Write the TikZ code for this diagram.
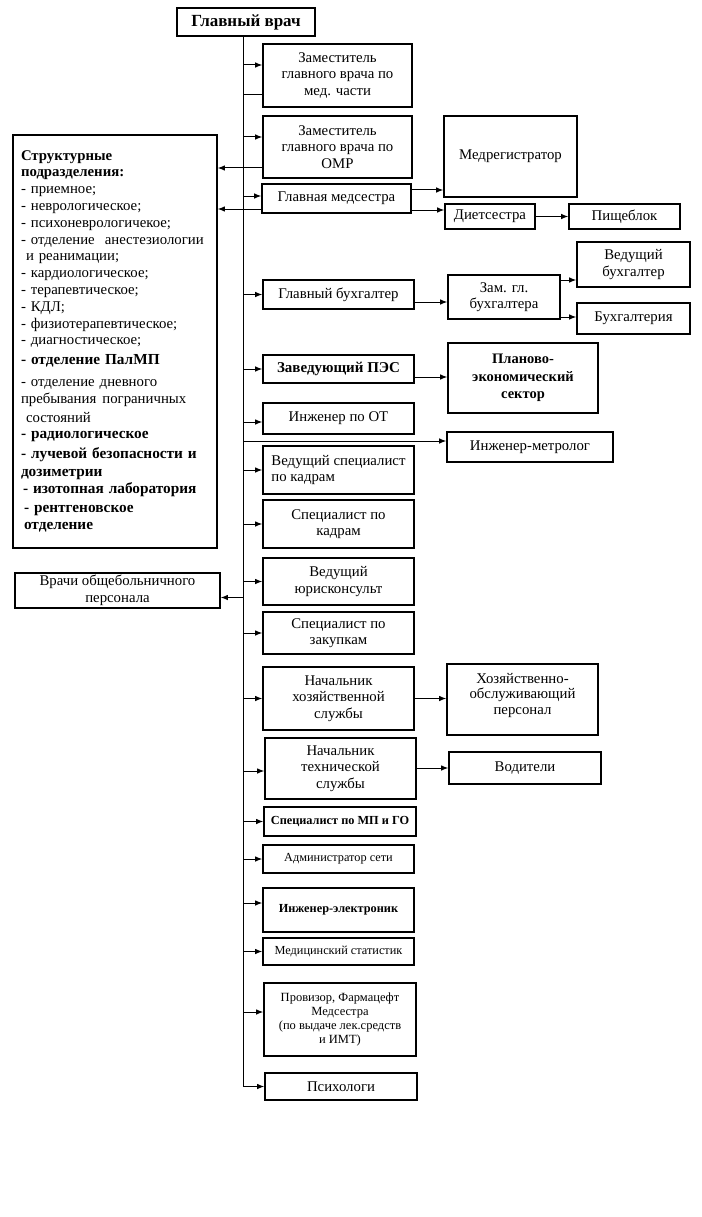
\documentclass[tikz,border=0pt]{standalone}
\usepackage{fontspec}
\setmainfont{Liberation Serif}
\usepackage{tikz}
\usetikzlibrary{arrows.meta,calc,positioning}

\begin{document}
\begin{tikzpicture}[
        x=1pt, y=-1pt,
        box/.style={draw, line width=1.6pt, align=center, inner sep=2pt, font=\fontsize{14.8}{16.5}\selectfont},
        smallbox/.style={box, font=\fontsize{12.3}{14.5}\selectfont},
        arrow/.style={-{Latex[length=7pt,width=5.5pt]}, line width=1pt},
        line/.style={line width=1pt}
    ]
        \useasboundingbox (0,0) rectangle (701,1217);

        % chief and the spine
        \node[box, minimum width=138pt, minimum height=28pt, font=\fontsize{17}{19}\selectfont\bfseries] (chief) at (246,22) {Главный врач};
        \coordinate (sp) at (243,0);

        % right column
        \node[box, minimum width=149pt, minimum height=63pt] (zmed) at (337.5,75.5) {Заместитель\\главного врача по\\мед. части};
        \node[box, minimum width=149pt, minimum height=62pt] (zomr) at (337.5,147) {Заместитель\\главного врача по\\ОМР};
        \node[box, minimum width=149pt, minimum height=29pt] (gms) at (336.5,198.5) {Главная медсестра};
        \node[box, minimum width=151pt, minimum height=29pt] (glbuh) at (338.5,294.5) {Главный бухгалтер};
        \node[box, minimum width=151pt, minimum height=28pt, font=\fontsize{15}{17}\selectfont\bfseries] (pes) at (338.5,369) {Заведующий ПЭС};
        \node[box, minimum width=151pt, minimum height=31pt] (ot) at (338.5,418.5) {Инженер по ОТ};
        \node[box, minimum width=151pt, minimum height=48pt, align=left] (vedkadr) at (338.5,470) {Ведущий специалист\\по кадрам};
        \node[box, minimum width=151pt, minimum height=48pt] (kadr) at (338.5,524) {Специалист по\\кадрам};
        \node[box, minimum width=151pt, minimum height=47pt] (yur) at (338.5,581.5) {Ведущий\\юрисконсульт};
        \node[box, minimum width=151pt, minimum height=42pt] (zak) at (338.5,633) {Специалист по\\закупкам};
        \node[box, minimum width=151pt, minimum height=63pt] (hoz) at (338.5,698.5) {Начальник\\хозяйственной\\службы};
        \node[box, minimum width=151pt, minimum height=61pt] (teh) at (340.5,768.5) {Начальник\\технической\\службы};
        \node[smallbox, minimum width=152pt, minimum height=29pt, font=\fontsize{12.3}{14}\selectfont\bfseries] (mpgo) at (340,821.5) {Специалист по МП и ГО};
        \node[smallbox, minimum width=151pt, minimum height=28pt] (adm) at (338.5,859) {Администратор сети};
        \node[smallbox, minimum width=151pt, minimum height=44pt, font=\fontsize{12.3}{14}\selectfont\bfseries] (elec) at (338.5,910) {Инженер-электроник};
        \node[smallbox, minimum width=151pt, minimum height=27pt] (stat) at (338.5,951.5) {Медицинский статистик};
        \node[smallbox, minimum width=152pt, minimum height=73pt, font=\fontsize{12.5}{14.3}\selectfont] (prov) at (340,1019.5) {Провизор, Фармацефт\\Медсестра\\(по выдаче лек.средств\\и ИМТ)};
        \node[box, minimum width=152pt, minimum height=27pt] (psy) at (341,1086.5) {Психологи};

        % second level
        \node[box, minimum width=133pt, minimum height=81pt] (medreg) at (510.5,156.5) {Медрегистратор};
        \node[box, minimum width=90pt, minimum height=25pt] (diet) at (490,216.5) {Диетсестра};
        \node[box, minimum width=111pt, minimum height=25pt] (pish) at (624.5,216.5) {Пищеблок};
        \node[box, minimum width=112pt, minimum height=44pt] (zambuh) at (504,297) {Зам. гл.\\бухгалтера};
        \node[box, minimum width=113pt, minimum height=45pt] (vedbuh) at (633.5,264.5) {Ведущий\\бухгалтер};
        \node[box, minimum width=113pt, minimum height=31pt] (buh) at (633.5,318.5) {Бухгалтерия};
        \node[box, minimum width=150pt, minimum height=70pt, font=\fontsize{14.5}{17.3}\selectfont\bfseries] (pesec) at (523,378) {Планово-\\экономический\\сектор};
        \node[box, minimum width=166pt, minimum height=30pt] (metr) at (530,447) {Инженер-метролог};
        \node[box, minimum width=151pt, minimum height=71pt, font=\fontsize{14.8}{15.2}\selectfont] (hozper) at (522.5,699.5) {Хозяйственно-\\обслуживающий\\персонал\\[-4pt]~};
        \node[box, minimum width=152pt, minimum height=32pt] (vod) at (525,768) {Водители};

        % left column
        \node[box, minimum width=204pt, minimum height=413pt, text width=188pt, align=left, font=\fontsize{14.8}{16.8}\selectfont] (struct) at (115,341.5) {%
            \textbf{Структурные}\\
            \textbf{подразделения:}\\
            - приемное;\\
            - неврологическое;\\
            - психоневрологичекое;\\
            - отделение\hspace{10pt}анестезиологии\\
            \hspace{5pt}и реанимации;\\
            - кардиологическое;\\
            - терапевтическое;\\
            - КДЛ;\\
            - физиотерапевтическое;\\
            - диагностическое;\\[3pt]
            {\fontsize{15.3}{16.8}\selectfont\bfseries - отделение ПалМП}\\[5pt]
            - отделение дневного\\
            пребывания\hspace{6pt}пограничных\\[2pt]
            \hspace{5pt}состояний\\
            {\fontsize{15.3}{16.8}\selectfont\bfseries - радиологическое}\\[3pt]
            {\fontsize{15.3}{16.8}\selectfont\bfseries - лучевой безопасности и}\\[1pt]
            {\fontsize{15.3}{16.8}\selectfont\bfseries дозиметрии}\\
            \hspace{2pt}{\fontsize{15.3}{16.8}\selectfont\bfseries - изотопная лаборатория}\\[2pt]
            \hspace{3pt}{\fontsize{15.3}{16.8}\selectfont\bfseries - рентгеновское}\\[1pt]
            \hspace{3pt}{\fontsize{15.3}{16.8}\selectfont\bfseries отделение}};
        \node[box, minimum width=205pt, minimum height=35pt] (vrachi) at (117.5,590.5) {Врачи общебольничного\\персонала};

        % connectors
        \draw[line] (chief.south -| sp) -- (psy.west -| sp);
        \draw[arrow] ([yshift=10.5pt]zmed.west -| sp) -- ([yshift=10.5pt]zmed.west);
        \draw[line] ([yshift=-19.5pt]zmed.west -| sp) -- ([yshift=-19.5pt]zmed.west);
        \draw[arrow] ([yshift=10pt]zomr.west -| sp) -- ([yshift=10pt]zomr.west);
        \draw[arrow] ([yshift=-21pt]zomr.west) -- ([yshift=-21pt]zomr.west -| struct.east);
        \draw[arrow] ([yshift=2.5pt]gms.west -| sp) -- ([yshift=2.5pt]gms.west);
        \draw[arrow] ([yshift=-10.5pt]gms.west) -- ([yshift=-10.5pt]gms.west -| struct.east);
        \draw[arrow] ([yshift=8.5pt]gms.east) -- ([yshift=8.5pt]gms.east -| medreg.west);
        \draw[arrow] ([yshift=-11.5pt]gms.east) -- ([yshift=-11.5pt]gms.east -| diet.west);
        \draw[arrow] (diet) -- (pish);
        \draw[arrow] (glbuh.west -| sp) -- (glbuh.west);
        \draw[arrow] ([yshift=-7.5pt]glbuh.east) -- ([yshift=-7.5pt]glbuh.east -| zambuh.west);
        \draw[arrow] ([yshift=17pt]zambuh.east) -- ([yshift=17pt]zambuh.east -| vedbuh.west);
        \draw[arrow] ([yshift=-20pt]zambuh.east) -- ([yshift=-20pt]zambuh.east -| buh.west);
        \draw[arrow] (pes.west -| sp) -- (pes.west);
        \draw[arrow] ([yshift=-8pt]pes.east) -- ([yshift=-8pt]pes.east -| pesec.west);
        \draw[arrow] ([yshift=-3.5pt]ot.west -| sp) -- ([yshift=-3.5pt]ot.west);
        \draw[arrow] ([yshift=6pt]metr.west -| sp) -- ([yshift=6pt]metr.west);
        \draw[arrow] (vedkadr.west -| sp) -- (vedkadr.west);
        \draw[arrow] (kadr.west -| sp) -- (kadr.west);
        \draw[arrow] (yur.west -| sp) -- (yur.west);
        \draw[arrow] ([yshift=-7pt]vrachi.east -| sp) -- ([yshift=-7pt]vrachi.east);
        \draw[arrow] (zak.west -| sp) -- (zak.west);
        \draw[arrow] (hoz.west -| sp) -- (hoz.west);
        \draw[arrow] (hoz.east) -- (hoz.east -| hozper.west);
        \draw[arrow] ([yshift=-2.5pt]teh.west -| sp) -- ([yshift=-2.5pt]teh.west);
        \draw[arrow] (vod.west -| teh.east) -- (vod.west);
        \draw[arrow] (mpgo.west -| sp) -- (mpgo.west);
        \draw[arrow] (adm.west -| sp) -- (adm.west);
        \draw[arrow] ([yshift=7pt]elec.west -| sp) -- ([yshift=7pt]elec.west);
        \draw[arrow] (stat.west -| sp) -- (stat.west);
        \draw[arrow] ([yshift=7.5pt]prov.west -| sp) -- ([yshift=7.5pt]prov.west);
        \draw[arrow] (psy.west -| sp) -- (psy.west);
    \end{tikzpicture}
\end{document}
